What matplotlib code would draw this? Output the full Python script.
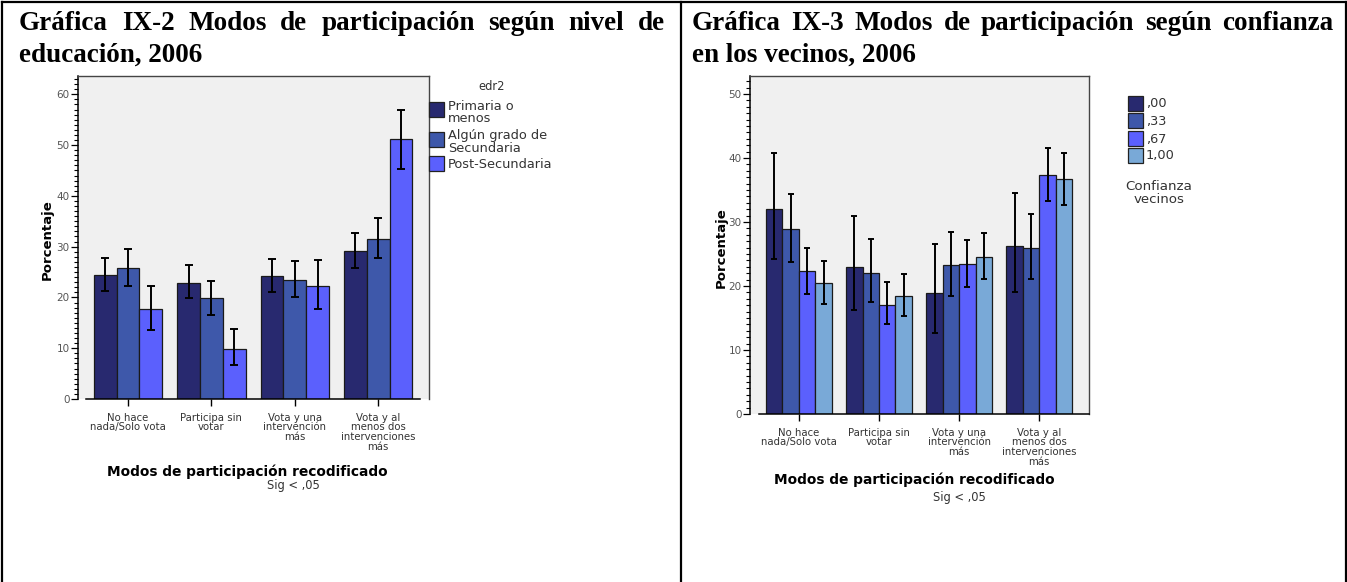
import numpy as np
import matplotlib
matplotlib.use("Agg")
import matplotlib.pyplot as plt
from matplotlib.patches import Rectangle
from matplotlib.lines import Line2D

W, H = 1347, 582
plt.rcParams.update({"font.family": "DejaVu Sans"})

# ---- datos ----
categorias = ["No hace\nnada/Solo vota", "Participa sin\nvotar",
              "Vota y una\nintervención\nmás", "Vota y al\nmenos dos\nintervenciones\nmás"]

edu_series = ["Primaria o\nmenos", "Algún grado de\nSecundaria", "Post-Secundaria"]
edu_vals = [[24.4, 22.9, 24.2, 29.2],
            [25.8, 19.8, 23.4, 31.6],
            [17.7, 9.8, 22.2, 51.1]]
edu_lo = [[21.3, 19.8, 21.1, 25.8],
          [22.3, 16.6, 20.0, 27.8],
          [13.5, 6.7, 17.7, 45.3]]
edu_hi = [[27.8, 26.3, 27.6, 32.7],
          [29.6, 23.3, 27.2, 35.7],
          [22.3, 13.7, 27.4, 56.9]]

conf_series = [",00", ",33", ",67", "1,00"]
conf_vals = [[32.0, 22.9, 18.9, 26.3],
             [28.9, 22.1, 23.2, 26.0],
             [22.3, 17.1, 23.4, 37.4],
             [20.4, 18.4, 24.6, 36.7]]
conf_lo = [[24.2, 16.2, 12.7, 19.0],
           [23.7, 17.5, 18.5, 21.1],
           [18.8, 14.0, 19.9, 33.3],
           [17.2, 15.3, 21.1, 32.7]]
conf_hi = [[40.7, 31.0, 26.5, 34.6],
           [34.4, 27.3, 28.4, 31.3],
           [26.0, 20.6, 27.2, 41.6],
           [23.9, 21.8, 28.3, 40.8]]

COLORS = ["#28296f", "#3e58aa", "#5b60fd", "#79a9d7"]
BG = "#f0f0f0"

fig = plt.figure(figsize=(W / 100, H / 100), dpi=100)

def px(x, y):
    return x / W, 1 - y / H

def ptext(x, y, s, **kw):
    return fig.text(*px(x, y), s, **kw)

# ---- marco de la tabla ----
for (x0, y0, x1, y1) in [(1.5, 1.5, 1345.5, 1.5), (1.5, 1.5, 1.5, 582), (1345.5, 1.5, 1345.5, 582),
                         (681, 1.5, 681, 582)]:
    a, b = px(x0, y0); c, d = px(x1, y1)
    fig.add_artist(Line2D([a, c], [b, d], color="black", lw=1.6, transform=fig.transFigure))

# ---- titulos justificados ----
renderer = fig.canvas.get_renderer()
TFONT = dict(family="Liberation Serif", fontweight="bold", fontsize=19.5, va="baseline", ha="left")

def justified(line, x0, x1, y):
    words = line.split()
    texts = [ptext(x0, y, w, **TFONT) for w in words]
    widths = [t.get_window_extent(renderer).width for t in texts]
    gap = (x1 - x0 - sum(widths)) / (len(words) - 1)
    x = x0
    for t, w in zip(texts, widths):
        t.set_position(px(x, y))
        x += w + gap

justified("Gráfica IX-2 Modos de participación según nivel de", 19, 665, 30)
ptext(19, 62, "educación, 2006", **TFONT)
justified("Gráfica IX-3 Modos de participación según confianza", 692, 1333, 30)
ptext(692, 62, "en los vecinos, 2006", **TFONT)


def chart(rect_px, vals, lo, hi, ymax, xlim, bottom_bounds, capsize, ymajor):
    x0, y0, x1, y1 = rect_px
    ax = fig.add_axes([x0 / W, 1 - y1 / H, (x1 - x0) / W, (y1 - y0) / H])
    ax.set_facecolor(BG)
    n = len(vals)
    bw = 0.82 / n
    xs = np.arange(len(categorias))
    for i in range(n):
        pos = xs + (i - (n - 1) / 2) * bw
        v = np.array(vals[i])
        err = [v - np.array(lo[i]), np.array(hi[i]) - v]
        ax.bar(pos, v, bw, color=COLORS[i], edgecolor="#1a1a1a", lw=0.9, zorder=2)
        ax.errorbar(pos, v, yerr=err, fmt="none", ecolor="black", elinewidth=1.4,
                    capsize=capsize, capthick=1.4, zorder=3)
    ax.set_xlim(*xlim)
    ax.set_ylim(0, ymax)
    ax.set_yticks(np.arange(0, ymax, ymajor))
    ax.set_yticks(np.arange(0, ymax, 1), minor=True)
    ax.set_xticks(xs)
    ax.set_xticklabels(categorias, fontsize=7.3, color="#333333", linespacing=0.95)
    ax.tick_params(axis="y", which="major", length=5, width=0.9, labelsize=7.5,
                   labelcolor="#555555", pad=1)
    ax.tick_params(axis="y", which="minor", length=3, width=0.8)
    ax.tick_params(axis="x", length=5, width=1.0, pad=5)
    ax.spines["bottom"].set_bounds(*bottom_bounds)
    for s in ("top", "right"):
        ax.spines[s].set_color("#444444")
        ax.spines[s].set_linewidth(1.0)
    for s in ("left", "bottom"):
        ax.spines[s].set_linewidth(1.1)
    return ax

chart((78, 76, 429, 399), edu_vals, edu_lo, edu_hi, 63.6, (-0.6, 3.61), (-0.5, 3.5), 2.8, 10)
chart((750, 76, 1089, 414), conf_vals, conf_lo, conf_hi, 52.8, (-0.61, 3.62), (-0.5, 3.62), 2.5, 10)

# ---- etiquetas de ejes ----
ptext(47, 240, "Porcentaje", rotation=90, fontsize=9.5, fontweight="bold", ha="center", va="center")
ptext(721, 248, "Porcentaje", rotation=90, fontsize=9.5, fontweight="bold", ha="center", va="center")
ptext(247, 472, "Modos de participación recodificado", fontsize=9.9, fontweight="bold",
      ha="center", va="center")
ptext(293, 486, "Sig < ,05", fontsize=8.3, color="#333333", ha="center", va="center")
ptext(914, 480, "Modos de participación recodificado", fontsize=9.9, fontweight="bold",
      ha="center", va="center")
ptext(959, 497, "Sig < ,05", fontsize=8.3, color="#333333", ha="center", va="center")

# ---- leyendas ----
LFS = 9.3
ptext(492, 86, "edr2", fontsize=8.3, color="#333333", ha="center", va="center")
for i, (lab, ytop, yc) in enumerate(zip(edu_series, [102, 132, 156], [112, 142, 165])):
    a, b = px(429, ytop + 15)
    fig.add_artist(Rectangle((a, b), 15 / W, 15 / H, transform=fig.transFigure,
                             facecolor=COLORS[i], edgecolor="#222222", lw=0.9))
    ptext(448, yc, lab, fontsize=LFS, color="#333333", ha="left", va="center", linespacing=0.9)

for i, (lab, ytop) in enumerate(zip(conf_series, [96, 113, 131, 148])):
    a, b = px(1128, ytop + 15)
    fig.add_artist(Rectangle((a, b), 15 / W, 15 / H, transform=fig.transFigure,
                             facecolor=COLORS[i], edgecolor="#222222", lw=0.9))
    ptext(1146, ytop + 8, lab, fontsize=LFS, color="#333333", ha="left", va="center")
ptext(1159, 193, "Confianza\nvecinos", fontsize=9.6, color="#333333", ha="center", va="center",
      linespacing=0.95)

fig.savefig("out.png", dpi=100)
